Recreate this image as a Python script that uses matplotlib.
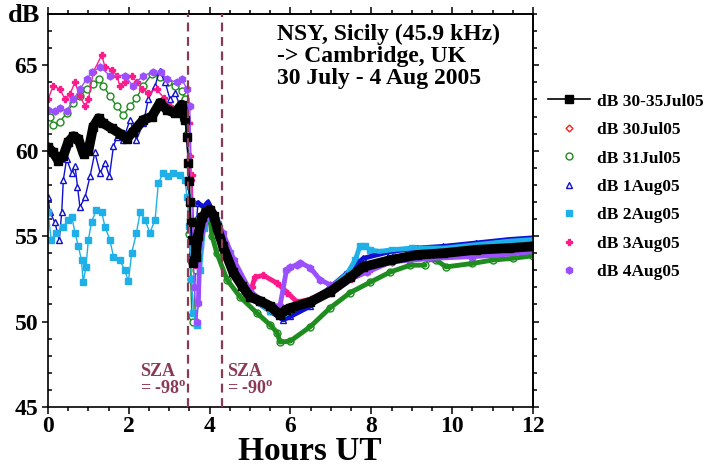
import numpy as np
import matplotlib
matplotlib.use("Agg")
import matplotlib.pyplot as plt

plt.rcParams.update({
    "font.family": ["Liberation Serif", "DejaVu Serif"],
    "font.weight": "bold",
    "axes.linewidth": 1.2,
})

MAROON = "#8b3a55"

# hours UT / dB
avg_h = [0.0, 0.13, 0.26, 0.38, 0.5, 0.63, 0.75, 0.88, 1.0, 1.12, 1.25, 1.37, 1.58, 1.78, 1.95,
         2.1, 2.36, 2.57, 2.77, 2.94, 3.14, 3.31, 3.39, 3.44, 3.47, 3.5, 3.51, 3.53, 3.56, 3.59,
         3.65, 3.71, 3.81, 3.92, 4.01, 4.1, 4.18, 4.33, 4.58, 4.8, 5.0, 5.25, 5.5, 5.74, 5.9,
         6.0, 6.49, 6.98, 7.48, 7.8, 8.47, 9.13, 9.78, 10.6, 11.4, 12.0]
avg_db = [60.2, 59.9, 59.4, 59.7, 60.5, 60.85, 60.7, 59.8, 60.0, 61.4, 61.9, 61.6, 61.3, 61.0, 60.7,
          61.1, 61.8, 62.0, 62.8, 62.4, 62.2, 62.7, 61.8, 60.8, 59.3, 58.2, 57.0, 55.85, 54.8, 53.45,
          53.8, 55.0, 56.1, 56.4, 56.55, 56.2, 55.55, 54.4, 52.9, 52.1, 51.45, 51.2, 50.9, 50.4, 50.7,
          50.8, 51.15, 51.75, 52.6, 53.2, 53.6, 53.9, 54.0, 54.2, 54.3, 54.4]

jul30_h = [4.0, 4.5, 5.0, 5.5, 6.0, 6.5, 7.0, 7.5, 8.0, 8.5, 9.0, 10.0, 11.0, 12.0]
jul30_db = [56.3, 53.3, 51.4, 50.8, 50.7, 51.1, 51.7, 52.55, 53.2, 53.6, 53.85, 54.0, 54.25, 54.4]

jul31_h = [0.05, 0.13, 0.3, 0.46, 0.63, 0.79, 0.96, 1.12, 1.25, 1.37, 1.53, 1.7, 1.86, 2.03, 2.19,
           2.36, 2.57, 2.77, 2.98, 3.14, 3.31, 3.39, 3.44, 3.47, 3.5, 3.53, 3.56, 3.6, 3.65, 3.71,
           3.85, 4.0, 4.06, 4.18, 4.43, 4.75, 5.17, 5.5, 5.67, 5.74, 5.99, 6.49, 6.98, 7.48, 7.97,
           8.47, 8.96, 9.33, 9.36, 9.4, 9.6, 9.85, 10.5, 11.0, 11.5, 12.0]
jul31_db = [62.0, 61.5, 61.7, 62.2, 62.8, 63.2, 63.6, 63.9, 64.2, 63.8, 63.2, 62.6, 62.1, 62.6, 63.1,
            63.8, 64.5, 64.3, 64.0, 63.8, 63.5, 63.0, 61.0, 59.2, 55.1, 52.5, 50.3, 50.0, 53.0, 56.0,
            56.3, 56.2, 55.0, 54.0, 52.45, 51.45, 50.5, 49.8, 49.35, 48.8, 48.85, 49.7, 50.8, 51.7, 52.3,
            52.9, 53.3, 53.3, np.nan, 53.7, 53.6, 53.2, 53.4, 53.6, 53.7, 53.85]

aug1_h = [0.0, 0.05, 0.17, 0.28, 0.34, 0.38, 0.46, 0.59, 0.67, 0.73, 0.79, 0.92, 1.04, 1.16, 1.29,
          1.41, 1.52, 1.62, 1.7, 1.86, 2.03, 2.19, 2.36, 2.48, 2.65, 2.76, 2.9, 3.02, 3.14, 3.27,
          3.39, 3.47, 3.51, 3.55, 3.6, 3.65, 3.71, 3.85, 3.96, 4.1, 4.18, 4.33, 4.58, 5.0, 5.5,
          5.82, 6.0, 6.49, 6.98, 7.48, 7.8, 8.47, 9.13, 9.78, 10.6, 11.4, 12.0]
aug1_db = [57.3, 56.4, 55.8, 54.8, 56.4, 58.3, 59.5, 58.7, 59.1, 57.9, 56.7, 57.3, 58.5, 59.9, 58.7,
           59.3, 58.5, 60.25, 60.8, 60.65, 61.8, 60.65, 61.6, 63.0, 63.8, 64.65, 64.0, 63.0, 63.4, 62.6,
           62.0, 59.5, 55.8, 54.0, 53.5, 55.0, 56.95, 56.7, 57.0, 56.3, 55.8, 54.6, 53.0, 51.4, 50.6,
           50.1, 50.3, 50.9, 52.0, 53.0, 53.7, 54.1, 54.3, 54.4, 54.6, 54.8, 54.9]

aug2_h = [0.0, 0.08, 0.2, 0.38, 0.5, 0.59, 0.67, 0.75, 0.83, 0.87, 0.94, 1.0, 1.08, 1.2, 1.33,
          1.41, 1.53, 1.62, 1.78, 1.9, 1.99, 2.07, 2.19, 2.28, 2.4, 2.52, 2.65, 2.73, 2.85, 2.98,
          3.1, 3.27, 3.39, 3.44, 3.5, 3.55, 3.6, 3.68, 3.75, 3.85, 4.0, 4.2, 4.5, 5.0, 5.5,
          5.8, 6.0, 6.5, 7.0, 7.4, 7.6, 7.72, 7.85, 7.97, 8.2, 8.5, 9.0, 9.8, 10.6, 11.4, 12.0]
aug2_db = [56.4, 54.8, 55.2, 55.55, 55.95, 56.1, 55.2, 54.4, 53.6, 52.3, 53.2, 54.8, 55.85, 56.55, 56.4,
           55.55, 54.8, 53.8, 53.6, 53.0, 52.35, 54.0, 55.2, 56.4, 55.95, 55.2, 55.95, 58.1, 58.7, 58.5,
           58.7, 58.6, 58.3, 57.3, 55.6, 52.5, 50.5, 49.8, 53.0, 55.5, 56.4, 55.7, 54.0, 51.4, 50.6,
           50.3, 50.6, 51.2, 52.0, 52.8, 53.6, 54.4, 54.4, 54.2, 54.1, 54.2, 54.3, 54.3, 54.5, 54.7, 54.8]

aug3_h = [0.0, 0.13, 0.3, 0.42, 0.54, 0.67, 0.79, 0.92, 1.0, 1.12, 1.33, 1.41, 1.58, 1.7, 1.78,
          1.9, 2.07, 2.2, 2.32, 2.48, 2.69, 2.86, 3.02, 3.23, 3.39, 3.5, 3.52, 3.53, 3.56, 3.64,
          3.76, 3.93, 4.05, 4.2, 4.4, 4.6, 4.8, 5.0, 5.05, 5.12, 5.33, 5.67, 5.92, 6.16, 6.5,
          7.0, 7.5, 8.0, 8.5, 9.0, 10.0, 11.0, 12.0]
aug3_db = [63.0, 63.8, 63.6, 63.0, 63.3, 64.0, 63.2, 62.6, 63.0, 64.6, 65.6, 64.9, 64.75, 64.4, 63.8,
           64.0, 64.4, 64.0, 63.6, 63.4, 63.6, 63.1, 62.6, 62.3, 62.0, 61.6, 59.7, 58.3, 58.6, 53.3,
           55.55, 56.15, 56.5, 55.6, 54.3, 53.1, 52.2, 51.6, 52.05, 52.6, 52.7, 52.25, 51.7, 51.15, 51.3,
           51.8, 52.5, 53.1, 53.5, 53.8, 53.9, 54.1, 54.2]

aug4_h = [0.0, 0.17, 0.3, 0.46, 0.63, 0.79, 0.96, 1.09, 1.29, 1.53, 1.9, 2.1, 2.36, 2.6, 2.8,
          2.94, 3.19, 3.31, 3.44, 3.51, 3.56, 3.62, 3.68, 3.72, 3.76, 3.88, 4.0, 4.15, 4.33, 4.6,
          5.0, 5.4, 5.74, 5.9, 6.0, 6.16, 6.24, 6.49, 6.73, 6.98, 7.3, 7.9, 8.5, 9.5, 10.5,
          11.2, 12.0]
aug4_db = [62.4, 62.3, 62.5, 62.3, 63.0, 63.6, 64.2, 64.6, 64.9, 64.4, 64.4, 63.8, 64.4, 64.6, 64.6,
           64.2, 64.0, 64.2, 63.6, 62.6, 57.0, 52.0, 50.0, 51.1, 54.4, 55.8, 56.4, 56.0, 55.2, 53.6,
           51.8, 51.0, 50.9, 53.0, 53.2, 53.3, 53.45, 53.15, 52.45, 52.15, 52.3, 52.9, 53.5, 53.7, 53.8,
           53.9, 54.1]

sza_h = [3.47, 4.3]
sza_labels = ["SZA\n= -98$\\mathregular{^o}$", "SZA\n= -90$\\mathregular{^o}$"]
sza_text_h = [2.28, 4.43]


def day(ax, h, db, color, marker, label, filled, ms=5, band=3.5):
    h = np.asarray(h)
    db = np.asarray(db)
    fc = color if filled else "white"
    ax.plot(h, db, color=color, lw=1.0, zorder=2)
    ax.plot(h, db, ls="none", marker=marker, ms=ms, mfc=fc, mec=color, mew=1.0,
            label=label, zorder=2)
    late = h >= 3.7
    ax.plot(h[late], db[late], color=color, lw=band, solid_capstyle="round", zorder=2.1)


fig = plt.figure(figsize=(7.13, 4.67), dpi=100)
ax = fig.add_axes([0.0673, 0.1285, 0.6802, 0.8415])

day(ax, jul30_h, jul30_db, "#ff2020", "D", "dB 30Jul05", False, ms=3.5)
day(ax, jul31_h, jul31_db, "#1e8c1e", "o", "dB 31Jul05", False)
day(ax, aug1_h, aug1_db, "#1010d0", "^", "dB 1Aug05", False)
day(ax, aug2_h, aug2_db, "#20b0e8", "s", "dB 2Aug05", True, ms=4)
day(ax, aug3_h, aug3_db, "#ff1a8c", "P", "dB 3Aug05", True)
day(ax, aug4_h, aug4_db, "#9b50ff", "h", "dB 4Aug05", True)

ah = np.asarray(avg_h)
ad = np.asarray(avg_db)
ax.plot(ah, ad, color="black", lw=1.2, marker="s", ms=6, label="dB 30-35Jul05", zorder=3)
for m in (ah <= 3.39, ah >= 3.59):
    ax.plot(ah[m], ad[m], color="black", lw=7, solid_capstyle="round", zorder=3)

for x in sza_h:
    ax.axvline(x, color=MAROON, lw=1.6, ls=(0, (4, 2.5)), zorder=4)
for x, s in zip(sza_text_h, sza_labels):
    ax.text(x, 45.6, s, color=MAROON, fontsize=13, fontweight="bold",
            va="bottom", ha="left", linespacing=0.95)

ax.text(0.472, 0.975, "NSY, Sicily (45.9 kHz)\n-> Cambridge, UK\n30 July - 4 Aug 2005",
        transform=ax.transAxes, fontsize=17, fontweight="bold", va="top", ha="left",
        linespacing=1.05)

ax.set_xlim(0, 12)
ax.set_ylim(45, 68)
ax.set_xticks(range(0, 13, 2))
ax.set_xticks(np.arange(0, 12.01, 0.5), minor=True)
ax.set_yticks(range(45, 66, 5))
ax.set_yticks(range(45, 69), minor=True)
ax.tick_params(which="both", width=1.1, labelsize=17)
ax.tick_params(axis="x", which="major", direction="out", length=5, pad=1.5)
ax.tick_params(axis="x", which="minor", direction="out", length=3)
ax.tick_params(axis="y", which="major", direction="out", length=4, pad=3)
ax.tick_params(axis="y", which="minor", direction="in", length=3)
for lab in ax.get_xticklabels() + ax.get_yticklabels():
    lab.set_fontweight("bold")

# top and right ticks point outward
top = ax.secondary_xaxis("top")
top.set_xticks(range(0, 13, 2))
top.set_xticks(np.arange(0, 12.01, 0.5), minor=True)
top.tick_params(which="major", direction="out", length=5, width=1.1, labeltop=False)
top.tick_params(which="minor", direction="out", length=3, width=1.1)
right = ax.secondary_yaxis("right")
right.set_yticks(range(45, 66, 5))
right.set_yticks(range(45, 69), minor=True)
right.tick_params(which="major", direction="out", length=4, width=1.1, labelright=False)
right.tick_params(which="minor", direction="out", length=3, width=1.1)

fig.text(0.435, 1 - 460 / 467, "Hours UT", fontsize=24, fontweight="bold",
         va="baseline", ha="center")
fig.text(0.011, 0.992, "dB", fontsize=19, fontweight="bold", va="top", ha="left")

handles, labels = ax.get_legend_handles_labels()
order = [6, 0, 1, 2, 3, 4, 5]
leg = ax.legend([handles[i] for i in order], [labels[i] for i in order],
                loc="upper left", bbox_to_anchor=(0.7686, 0.80), bbox_transform=fig.transFigure,
                frameon=False, handlelength=2.4, handletextpad=0.4,
                labelspacing=0.71, borderpad=0, borderaxespad=0,
                prop={"weight": "bold", "size": 12.5})

fig.savefig("out.png", dpi=100)
